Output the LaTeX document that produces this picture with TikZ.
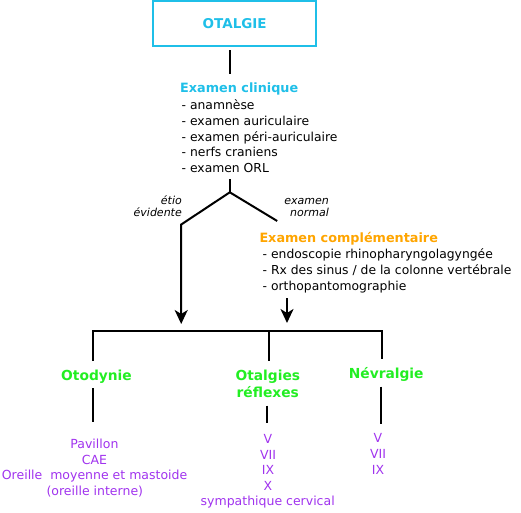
\documentclass[tikz,border=0pt]{standalone}
\usepackage{fontspec}
\setmainfont{DejaVu Sans}
\usetikzlibrary{arrows.meta}
\definecolor{cyanc}{HTML}{1FBFE8}
\definecolor{greenc}{HTML}{22EE22}
\definecolor{orangec}{HTML}{FFA500}
\definecolor{purplec}{HTML}{A033EE}
\begin{document}
\begin{tikzpicture}[x=1pt,y=-1pt,
  conn/.style={line width=2pt, black},
  arr/.style={conn, -{Stealth[length=14pt,width=13pt,inset=4pt]}},
  txt/.style={inner sep=0, font=\fontsize{12.35}{15}\selectfont},
  head/.style={inner sep=0, font=\fontsize{12.8}{15}\selectfont\bfseries},
  grn/.style={inner sep=0, font=\fontsize{13.8}{17}\selectfont\bfseries, text=greenc},
  pur/.style={inner sep=0, font=\fontsize{12.5}{15}\selectfont, text=purplec, anchor=base},
  lab/.style={inner sep=0, font=\fontsize{11}{12.7}\selectfont\itshape, align=right}]
\path[use as bounding box] (0,0) rectangle (521,512);
% title
\node[draw=cyanc, line width=2pt, minimum width=163pt, minimum height=44.7pt, inner sep=0,
  text=cyanc, font=\fontsize{13.5}{16}\selectfont\bfseries] (title) at (234.7,23.4) {OTALGIE};
% clinical exam
\node[head, text=cyanc, anchor=base west] (clin) at (180,92.3) {Examen clinique};
\foreach \t [count=\i] in {- anamnèse, - examen auriculaire, - examen péri-auriculaire, - nerfs craniens, - examen ORL}
  \node[txt, anchor=base west] (cl\i) at (181.5,109.3+15.85*\i-15.85) {\t};
% complementary exam
\node[head, text=orangec, anchor=base west] (comp) at (259.3,242.7) {Examen complémentaire};
\foreach \t [count=\i] in {- endoscopie rhinopharyngolagyngée, - Rx des sinus / de la colonne vertébrale, - orthopantomographie}
  \node[txt, anchor=base west] (cp\i) at (262.5,258.8+15.9*\i-15.9) {\t};
% branch labels (base = last line)
\node[lab, anchor=base east] (etio) at (182,216.7) {étio\\évidente};
\node[lab, anchor=base east] (norm) at (329,216.7) {examen\\normal};
% categories
\node[grn, anchor=base] (oto) at (96.5,380) {Otodynie};
\node[grn, anchor=base, align=center] (ref) at (267.8,397.7) {Otalgies\\[0.7pt]réflexes};
\node[grn, anchor=base] (nev) at (386.2,378.3) {Névralgie};
% details
\node[pur] (p1) at (94.4,448.3) {Pavillon};
\node[pur] (p2) at (94.4,464) {CAE};
\node[pur] (p3) at (94.6,479.5) {Oreille\ \ moyenne et mastoide};
\node[pur] (p4) at (94.8,495.5) {(oreille interne)};
\node[pur] (r1) at (268,443.3) {V};
\node[pur] (r2) at (268,459.2) {VII};
\node[pur] (r3) at (268,474.8) {IX};
\node[pur] (r4) at (268,490.3) {X};
\node[pur] (r5) at (267.7,505.8) {sympathique cervical};
\node[pur] (n1) at (378,442.5) {V};
\node[pur] (n2) at (378,458.6) {VII};
\node[pur] (n3) at (378,474.5) {IX};
% junction coordinates
\coordinate (a1) at (229.6,50);
\coordinate (a2) at (229.6,74);
\coordinate (b1) at (229.8,179);
\coordinate (v) at (229.8,192.3);
\coordinate (l1) at (181.2,224.5);
\coordinate (l2) at (181.2,324);
\coordinate (r1c) at (277.2,221);
\coordinate (ra1) at (287,298);
\coordinate (ra2) at (287,323);
\coordinate (h1) at (92.7,331);
\coordinate (h2) at (269,331);
\coordinate (h3) at (382,331);
\coordinate (t1) at (92.7,361);
\coordinate (t2) at (269,361);
\coordinate (t3) at (382,359);
\coordinate (d1a) at (92.8,388);
\coordinate (d1b) at (92.8,421.7);
\coordinate (d2a) at (266.8,405.5);
\coordinate (d2b) at (266.8,423.3);
\coordinate (d3a) at (381,386.7);
\coordinate (d3b) at (381,424);
% connectors
\draw[conn] (a1) -- (a2);
\draw[conn] (b1) -- (v);
\draw[arr] (v) -- (l1) -- (l2);
\draw[conn] (v) -- (r1c);
\draw[arr] (ra1) -- (ra2);
\draw[conn] (t1) -- (h1) -- (h3) -- (t3);
\draw[conn] (h2) -- (t2);
\draw[conn] (d1a) -- (d1b);
\draw[conn] (d2a) -- (d2b);
\draw[conn] (d3a) -- (d3b);
\end{tikzpicture}
\end{document}
